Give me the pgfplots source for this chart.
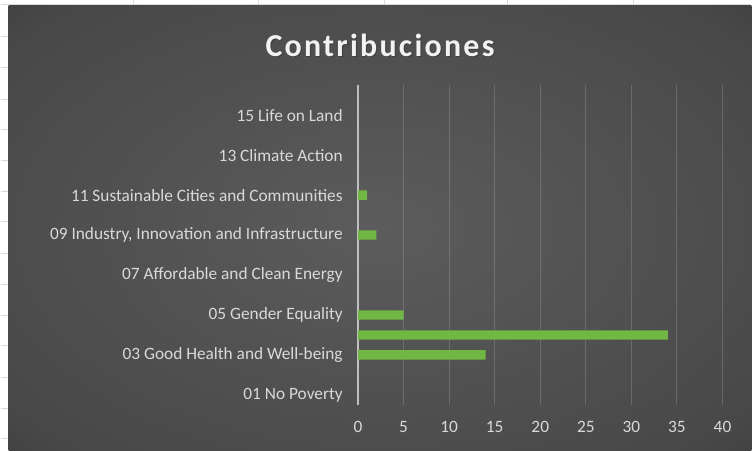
\documentclass[border=0pt]{standalone}
\usepackage{fontspec}
\setmainfont{Carlito}
\usepackage{pgfplots}
\pgfplotsset{compat=1.18}

\definecolor{bgmid}{HTML}{5C5C5C}
\definecolor{bgring}{HTML}{484848}
\definecolor{bgedge}{HTML}{2A2A2A}
\definecolor{axisc}{HTML}{BFBFBF}
\definecolor{labelc}{HTML}{D9D9D9}
\definecolor{barc}{HTML}{70B843}
\definecolor{sheetline}{HTML}{DADADA}

\pgfdeclareradialshading{chartbg}{\pgfpoint{0bp}{0bp}}{%
  color(0bp)=(bgmid); color(32bp)=(bgring); color(50bp)=(bgedge)}

\begin{document}
\begin{tikzpicture}[x=1pt,y=1pt]
% spreadsheet behind the chart
\fill[white] (0,0) rectangle (564,338.25);
\foreach \yy in {9,32,55,79,102,125,148,172,195,218,241,264,288,311}
  \draw[sheetline,line width=0.6pt] (0,\yy) -- (6,\yy);
\foreach \xx in {100,194,288,381,475}
  \draw[sheetline,line width=0.6pt] (\xx,334.5) -- (\xx,338.25);
\draw[sheetline,line width=0.8pt] (0,335.5) -- (564,335.5);
% chart area
\shade[shading=chartbg] (6,0) rectangle (564,334.5);
\node[font=\bfseries\addfontfeatures{LetterSpace=7}\fontsize{24}{28}\selectfont,
      text=black, opacity=0.2] at (285.8,303.7) {Contribuciones};
\node[font=\bfseries\addfontfeatures{LetterSpace=7}\fontsize{24}{28}\selectfont,
      text=white!95!black] at (285,304.5) {Contribuciones};

\begin{axis}[
    at={(268.5pt,34.5pt)}, anchor=south west,
    scale only axis,
    width=273.75pt, height=240pt,
    xbar,
    bar width=7pt,
    xmin=0, xmax=40,
    ymin=0.5, ymax=16.5,
    axis line style={draw=none},
    major tick length=0pt,
    xtick={5,10,...,40},
    extra x ticks={0},
    extra x tick labels={0},
    extra x tick style={grid style={axisc, line width=1pt, opacity=1}},
    xmajorgrids,
    grid style={white, opacity=0.16, line width=0.75pt},
    ytick={1,3,...,15},
    yticklabels={01 No Poverty, 03 Good Health and Well-being, 05 Gender Equality,
      07 Affordable and Clean Energy, {09 Industry, Innovation and Infrastructure},
      11 Sustainable Cities and Communities, 13 Climate Action, 15 Life on Land},
    ticklabel style={font=\fontsize{13}{15}\selectfont, text=labelc},
    yticklabel style={xshift=-8pt},
    xticklabel style={yshift=-9pt},
    /pgf/number format/assume math mode=true,
]
\addplot[fill=barc, draw=none] coordinates {
    (0,1) (0,2) (14,3) (34,4) (5,5) (0,6) (0,7) (0,8)
    (2,9) (0,10) (1,11) (0,12) (0,13) (0,14) (0,15) (0,16)
};
\end{axis}
\end{tikzpicture}
\end{document}
